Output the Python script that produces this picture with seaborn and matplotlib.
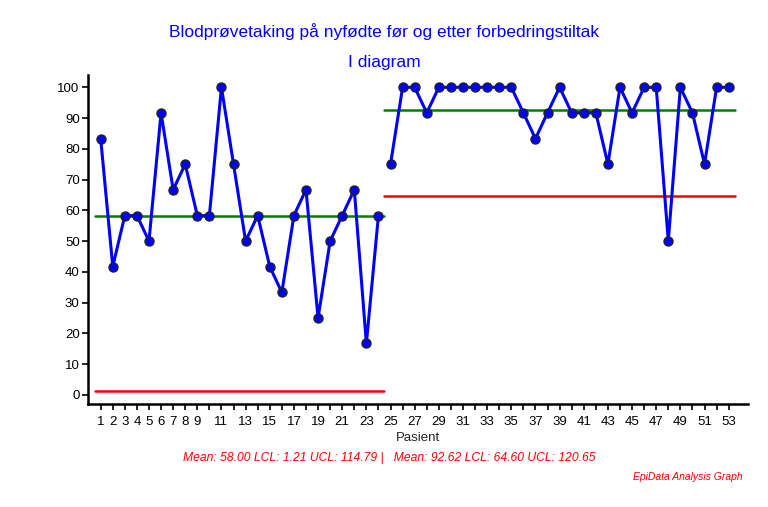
import matplotlib
matplotlib.use("Agg")
import matplotlib.pyplot as plt
import seaborn as sns
import pandas as pd
import numpy as np

sns.set_style("ticks")
plt.rcParams['font.family'] = ['Liberation Sans', 'DejaVu Sans']

# Data
phase1 = [83.3, 41.7, 58.3, 58.3, 50.0, 91.7, 66.7, 75.0, 58.3, 58.3, 100.0, 75.0,
          50.0, 58.3, 41.7, 33.3, 58.3, 66.7, 25.0, 50.0, 58.3, 66.7, 16.7, 58.3]
phase2 = [75.0, 100.0, 100.0, 91.7, 100.0, 100.0, 100.0, 100.0, 100.0, 100.0, 100.0,
          91.7, 83.3, 91.7, 100.0, 91.7, 91.7, 91.7, 75.0, 100.0, 91.7, 100.0, 100.0,
          50.0, 100.0, 91.7, 75.0, 100.0, 100.0]
means = [58.00, 92.62]
lcls = [1.21, 64.60]
ucls = [114.79, 120.65]
xtick_labels = [str(i) for i in range(1, 10)] + [str(i) for i in range(11, 54, 2)]
title = "Blodprøvetaking på nyfødte før og etter forbedringstiltak"
subtitle = "I diagram"
xlabel = "Pasient"
footer = ("Mean: 58.00 LCL: 1.21 UCL: 114.79 |   Mean: 92.62 LCL: 64.60 UCL: 120.65")
credit = "EpiData Analysis Graph"

n1 = len(phase1)
n2 = len(phase2)
df = pd.DataFrame({
    "Pasient": np.arange(1, n1 + n2 + 1),
    "value": phase1 + phase2,
    "phase": ["før"] * n1 + ["etter"] * n2,
})

fig = plt.figure(figsize=(7.68, 5.07), dpi=100)
ax = fig.add_axes([88 / 768, 1 - 404 / 507, (748 - 88) / 768, (404 - 75) / 507])

# control lines
bounds = [(0.5, n1 + 0.5), (n1 + 0.5, n1 + n2 + 0.5)]
for (x0, x1), m, l in zip(bounds, means, lcls):
    ax.plot([x0, x1], [m, m], color="#008000", lw=1.8, zorder=1)
    ax.plot([x0, x1], [l, l], color="#ff0000", lw=1.8, zorder=1)

sns.lineplot(data=df, x="Pasient", y="value", hue="phase",
             palette={"før": "#0000ff", "etter": "#0000ff"},
             marker="o", markersize=6.5, markerfacecolor="#0000ff",
             markeredgecolor="#222222", markeredgewidth=1.0,
             linewidth=2.2, legend=False, ax=ax, zorder=3)

ax.set_xlim(-0.05, 54.6)
ax.set_ylim(-3, 104)
ax.set_yticks(range(0, 101, 10))
ax.set_xticks(range(1, n1 + n2 + 1))
labels = []
for i in range(1, n1 + n2 + 1):
    labels.append(str(i) if str(i) in xtick_labels else "")
ax.set_xticklabels(labels)
ax.tick_params(axis="both", labelsize=9.5, colors="black", width=1.2,
               length=4, pad=2)
ax.tick_params(axis="x", pad=4.5)
ax.set_xlabel(xlabel, fontsize=9.5, color="#222222", labelpad=3)
ax.set_ylabel("")
for s in ["top", "right"]:
    ax.spines[s].set_visible(False)
for s in ["left", "bottom"]:
    ax.spines[s].set_linewidth(1.8)
    ax.spines[s].set_color("black")

fig.text(384 / 768, 1 - 32 / 507, title, color="#0000ff", fontsize=12.5,
         ha="center", va="center")
fig.text(384 / 768, 1 - 62 / 507, subtitle, color="#0000ff", fontsize=12.5,
         ha="center", va="center")
fig.text(389 / 768, 1 - 458 / 507, footer, color="#ff0000", fontsize=8.7,
         style="italic", ha="center", va="center")
fig.text(743 / 768, 1 - 477 / 507, credit, color="#ff0000", fontsize=7.5,
         style="italic", ha="right", va="center")

fig.savefig("out.png", dpi=100, facecolor="white")
